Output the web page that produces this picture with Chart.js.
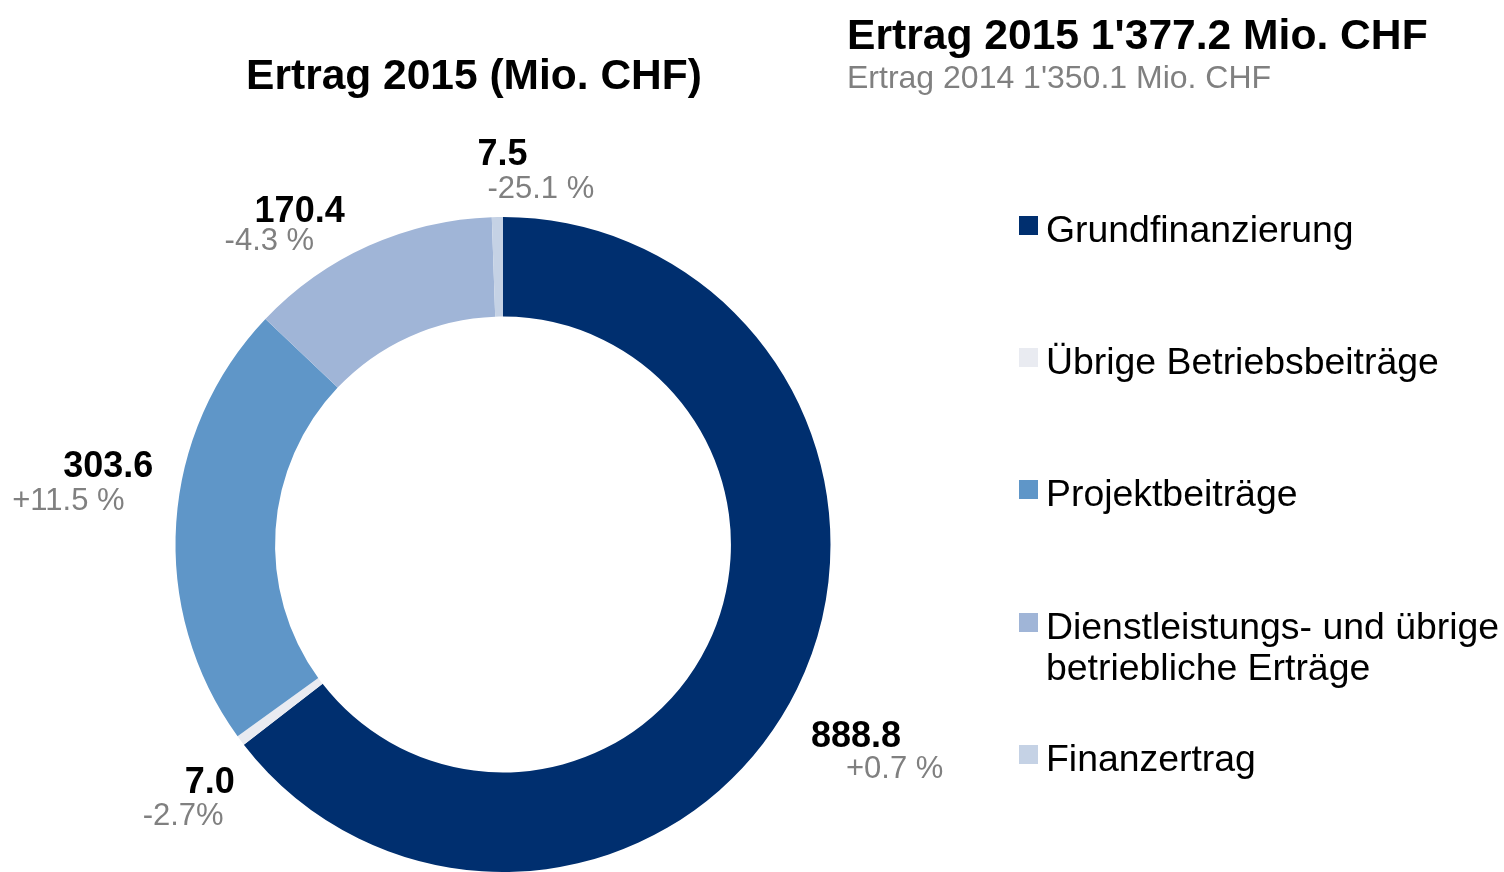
<!DOCTYPE html>
<html>
<head>
<meta charset="utf-8">
<script src="https://cdn.jsdelivr.net/npm/chart.js@4/dist/chart.umd.min.js"></script>
<style>
  body { margin: 0; background: #fff; }
  canvas { display: block; }
</style>
</head>
<body>
<canvas id="myChart" width="1504" height="872"></canvas>
<script>
// Daten
const kategorien = [
    'Grundfinanzierung',
    'Übrige Betriebsbeiträge',
    'Projektbeiträge',
    ['Dienstleistungs- und übrige', 'betriebliche Erträge'],
    'Finanzertrag'
];
const ertrag2015 = [888.8, 7.0, 303.6, 170.4, 7.5];
const veraenderung = ['+0.7 %', '-2.7%', '+11.5 %', '-4.3 %', '-25.1 %'];
const farben = ['#002f6f', '#e9ebf1', '#5f96c8', '#a0b5d7', '#c5d2e5'];

const titel = 'Ertrag 2015 (Mio. CHF)';
const totalText = "Ertrag 2015 1'377.2 Mio. CHF";
const vorjahrText = "Ertrag 2014 1'350.1 Mio. CHF";

// Label-Versatz relativ zur Mitte des Aussenbogens: [wert dx, dy, prozent dx, dy]
const labelOffsets = [
    [14, 48, 49, 81],
    [-56, 43, -98, 76],
    [-113, -56, -164, -21],
    [-114, -34, -144, -4],
    [-20, -62, -10, -28]
];
// Legende: y-Mitte der ersten Zeile jedes Eintrags
const legendY = [229, 361, 493, 626, 758];

const FONT = '"Liberation Sans", Arial, sans-serif';

const extras = {
    id: 'extras',
    afterDraw(chart) {
        const ctx = chart.ctx;
        ctx.save();
        ctx.textBaseline = 'middle';

        // Titel
        ctx.fillStyle = '#000';
        ctx.font = 'bold 42.5px ' + FONT;
        ctx.textAlign = 'center';
        ctx.fillText(titel, 474, 77);
        ctx.textAlign = 'left';
        ctx.font = 'bold 42.6px ' + FONT;
        ctx.fillText(totalText, 847, 37);
        ctx.fillStyle = '#808080';
        ctx.font = '32px ' + FONT;
        ctx.fillText(vorjahrText, 847, 79);

        // Wertelabels an den Bögen
        const meta = chart.getDatasetMeta(0);
        meta.data.forEach((arc, i) => {
            const mid = (arc.startAngle + arc.endAngle) / 2;
            const ax = arc.x + Math.cos(mid) * arc.outerRadius;
            const ay = arc.y + Math.sin(mid) * arc.outerRadius;
            const o = labelOffsets[i];
            ctx.fillStyle = '#000';
            ctx.font = 'bold 36px ' + FONT;
            ctx.fillText(ertrag2015[i].toFixed(1), ax + o[0], ay + o[1]);
            ctx.fillStyle = '#808080';
            ctx.font = '31px ' + FONT;
            ctx.fillText(veraenderung[i], ax + o[2], ay + o[3]);
        });

        // Legende
        ctx.font = '37.4px ' + FONT;
        kategorien.forEach((lab, i) => {
            const y = legendY[i];
            ctx.fillStyle = farben[i];
            ctx.fillRect(1019, y - 13, 19, 19);
            ctx.fillStyle = '#000';
            const zeilen = Array.isArray(lab) ? lab : [lab];
            zeilen.forEach((z, j) => ctx.fillText(z, 1046, y + 3 + j * 41));
        });
        ctx.restore();
    }
};

const ctx = document.getElementById('myChart').getContext('2d');
const myChart = new Chart(ctx, {
    type: 'doughnut',
    data: {
        labels: kategorien,
        datasets: [{
            data: ertrag2015,
            backgroundColor: farben,
            borderWidth: 0
        }]
    },
    options: {
        responsive: false,
        animation: false,
        cutout: '69.6%',
        layout: {
            padding: { left: 175, top: 217, right: 673, bottom: 0 }
        },
        plugins: {
            legend: { display: false },
            tooltip: { enabled: false }
        }
    },
    plugins: [extras]
});
</script>
</body>
</html>
